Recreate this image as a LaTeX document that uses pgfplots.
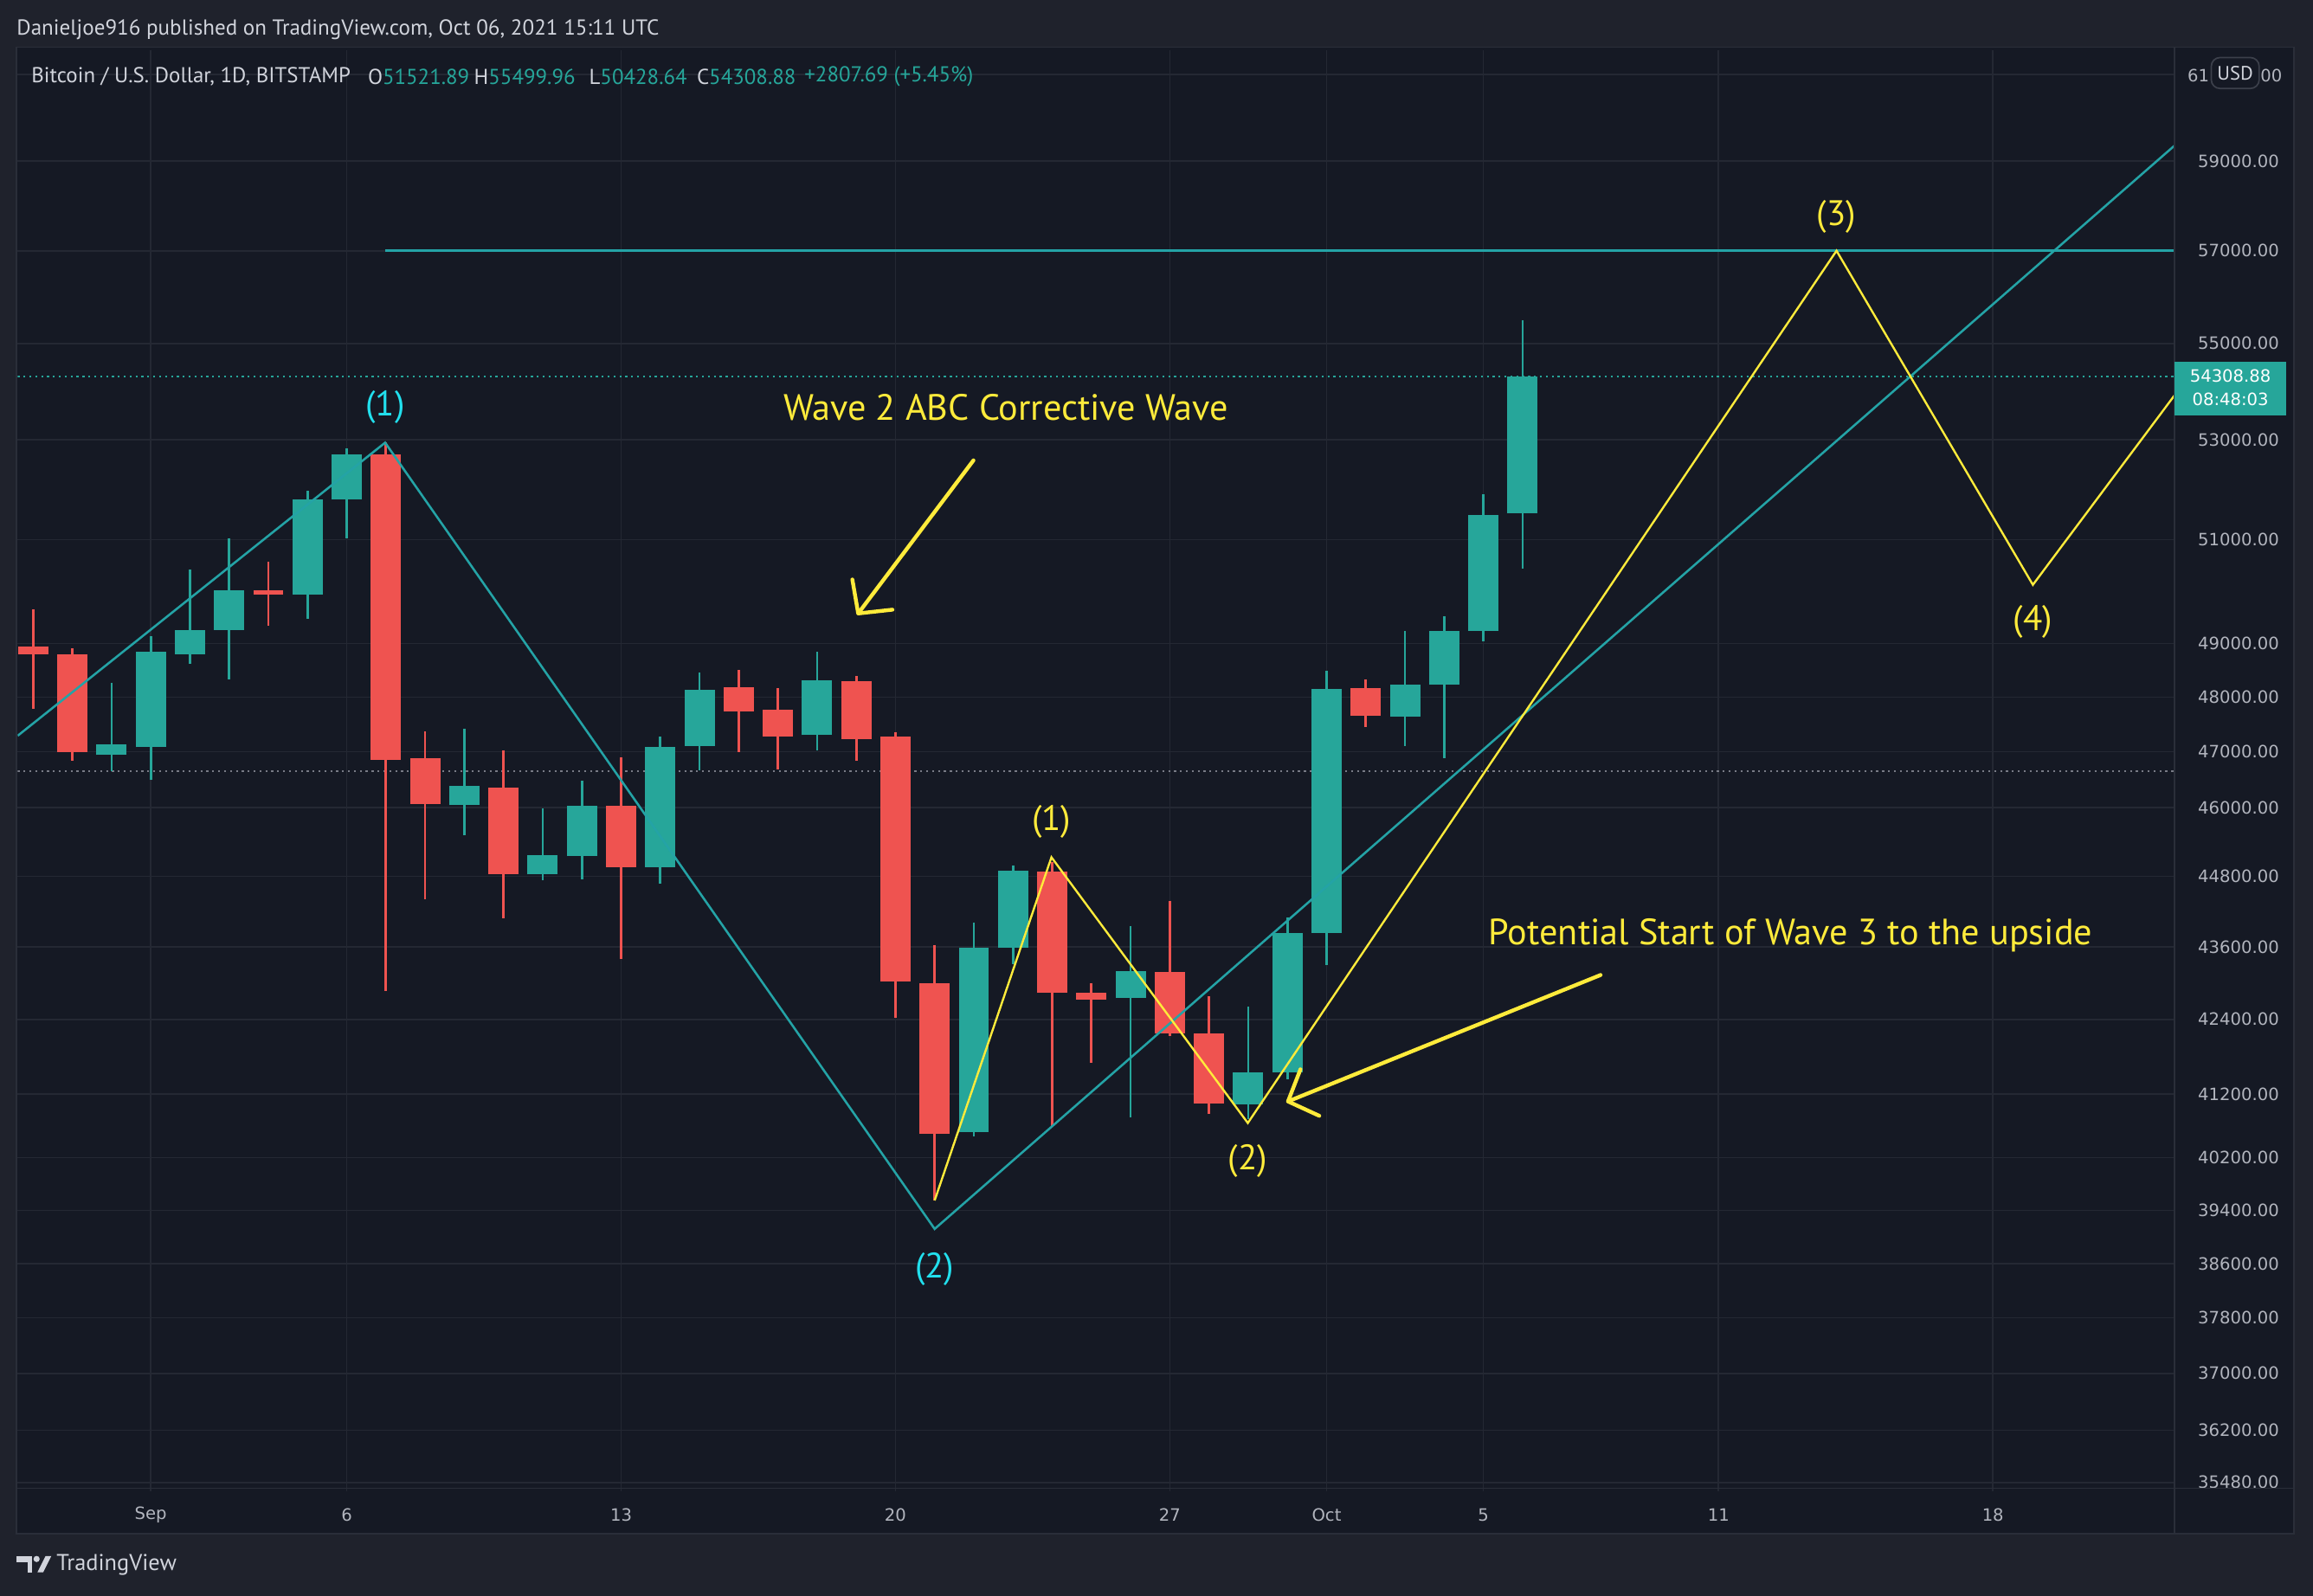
\documentclass[border=0pt]{standalone}
\usepackage{pgfplots}
\pgfplotsset{compat=1.18}
\usepackage{fontspec}
\setmainfont{PT Sans}
\newfontfamily\numfont{DejaVu Sans}
\usetikzlibrary{arrows.meta}
\definecolor{chrome}{HTML}{1F222C}
\definecolor{plotbg}{HTML}{151924}
\definecolor{gridc}{HTML}{242833}
\definecolor{framec}{HTML}{2A2E39}
\definecolor{boxc}{HTML}{3C404B}
\definecolor{upc}{HTML}{26A69A}
\definecolor{downc}{HTML}{EF5350}
\definecolor{trendc}{HTML}{24A3A6}
\definecolor{cyanc}{HTML}{22E0EE}
\definecolor{yel}{HTML}{FFEB3B}
\definecolor{txt}{HTML}{B2B5BE}
\definecolor{hdr}{HTML}{D1D4DC}
\definecolor{dotg}{HTML}{787B86}
\begin{document}
\begin{tikzpicture}
\begin{scope}[x=0.5pt,y=0.5pt]
\useasboundingbox (0,0) rectangle (1568,-1082);
\fill[chrome] (0,0) rectangle (1568,-1082);
\fill[plotbg] (11,-32) rectangle (1555,-1040);
\node[anchor=west, inner sep=0pt, text=hdr, font=\fontsize{7.35}{9}\selectfont] at (11,-20) {Danieljoe916 published on TradingView.com, Oct 06, 2021 15:11 UTC};
\end{scope}
\begin{axis}[
  at={(6pt,-505.75pt)}, anchor=south west,
  scale only axis, width=731pt, height=488.5pt,
  xmin=-2.395, xmax=52.63,
  ymode=log, ymin=35354, ymax=61568,
  axis background/.style={fill=plotbg},
  axis line style={draw=none},
  major tick length=0pt,
  grid=major, major grid style={draw=gridc, line width=0.5pt},
  xtick={1,6,13,20,27,31,35,41,48},
  xticklabels={Sep,6,13,20,27,Oct,5,11,18},
  ytick={35480,36200,37000,37800,38600,39400,40200,41200,42400,43600,44800,46000,47000,48000,49000,51000,53000,55000,57000,59000,61000},
  yticklabels={35480.00,36200.00,37000.00,37800.00,38600.00,39400.00,40200.00,41200.00,42400.00,43600.00,44800.00,46000.00,47000.00,48000.00,49000.00,51000.00,53000.00,55000.00,57000.00,59000.00,{}},
  yticklabel pos=right,
  ticklabel style={font=\numfont\fontsize{5.75}{7}\selectfont, text=txt},
  yticklabel style={anchor=west, xshift=4.5pt},
  xticklabel style={anchor=center, yshift=-8pt},
  unbounded coords=jump,
]
\addplot[dotg, line width=0.6pt, dash pattern=on 0.65pt off 1.35pt] coordinates {(-3,46650) (53,46650)};
\addplot[upc, line width=0.6pt, dash pattern=on 0.65pt off 1.35pt] coordinates {(-3,54308.88) (53,54308.88)};
\addplot[downc, line width=0.8pt] coordinates {
(-2,49650) (-2,47780) (-2,nan)
(-1,48910) (-1,46840) (-1,nan)
(4,50560) (4,49340) (4,nan)
(7,52940) (7,42870) (7,nan)
(8,47370) (8,44400) (8,nan)
(10,47030) (10,44080) (10,nan)
(13,46900) (13,43390) (13,nan)
(16,48500) (16,46990) (16,nan)
(17,48165) (17,46680) (17,nan)
(19,48390) (19,46830) (19,nan)
(20,47360) (20,42430) (20,nan)
(21,43635) (21,39560) (21,nan)
(24,45050) (24,40680) (24,nan)
(25,43000) (25,41690) (25,nan)
(27,44380) (27,42130) (27,nan)
(28,42780) (28,40880) (28,nan)
(32,48330) (32,47450)
};
\addplot[upc, line width=0.8pt] coordinates {
(0,48270) (0,46650) (0,nan)
(1,49130) (1,46490) (1,nan)
(2,50410) (2,48610) (2,nan)
(3,51030) (3,48330) (3,nan)
(5,51960) (5,49460) (5,nan)
(6,52820) (6,51030) (6,nan)
(9,47420) (9,45510) (9,nan)
(11,45990) (11,44740) (11,nan)
(12,46480) (12,44750) (12,nan)
(14,47270) (14,44680) (14,nan)
(15,48450) (15,46670) (15,nan)
(18,48840) (18,47030) (18,nan)
(22,44015) (22,40530) (22,nan)
(23,44995) (23,43310) (23,nan)
(26,43950) (26,40830) (26,nan)
(29,42610) (29,40800) (29,nan)
(30,44100) (30,41430) (30,nan)
(31,48490) (31,43300) (31,nan)
(33,49230) (33,47100) (33,nan)
(34,49520) (34,46880) (34,nan)
(35,51900) (35,49040) (35,nan)
(36,55499.96) (36,50428.64)
};
\addplot[downc, line width=10.25pt] coordinates {
(-2,48950) (-2,48790) (-2,nan)
(-1,48790) (-1,46990) (-1,nan)
(4,50010) (4,49930) (4,nan)
(7,52700) (7,46850) (7,nan)
(8,46890) (8,46070) (8,nan)
(10,46360) (10,44830) (10,nan)
(13,46030) (13,44960) (13,nan)
(16,48180) (16,47740) (16,nan)
(17,47760) (17,47280) (17,nan)
(19,48300) (19,47220) (19,nan)
(20,47270) (20,43020) (20,nan)
(21,42990) (21,40565) (21,nan)
(24,44880) (24,42840) (24,nan)
(25,42830) (25,42720) (25,nan)
(27,43180) (27,42170) (27,nan)
(28,42170) (28,41050) (28,nan)
(32,48160) (32,47660)
};
\addplot[upc, line width=10.25pt] coordinates {
(0,46940) (0,47140) (0,nan)
(1,47080) (1,48840) (1,nan)
(2,48800) (2,49260) (2,nan)
(3,49260) (3,50010) (3,nan)
(5,49930) (5,51800) (5,nan)
(6,51800) (6,52700) (6,nan)
(9,46040) (9,46380) (9,nan)
(11,44830) (11,45160) (11,nan)
(12,45150) (12,46030) (12,nan)
(14,44960) (14,47090) (14,nan)
(15,47100) (15,48130) (15,nan)
(18,47300) (18,48310) (18,nan)
(22,40600) (22,43580) (22,nan)
(23,43580) (23,44900) (23,nan)
(26,42750) (26,43200) (26,nan)
(29,41030) (29,41550) (29,nan)
(30,41550) (30,43830) (30,nan)
(31,43830) (31,48150) (31,nan)
(33,47640) (33,48230) (33,nan)
(34,48230) (34,49240) (34,nan)
(35,49240) (35,51490) (35,nan)
(36,51521.89) (36,54308.88)
};
\addplot[trendc, line width=0.75pt] coordinates {(-2.395,47290) (6.98,52940) (21,39120) (52.63,59350)};
\addplot[trendc, line width=0.75pt] coordinates {(6.98,57000) (52.63,57000)};
\addplot[yel, line width=0.7pt] coordinates {(21,39550) (23.98,45130) (28.99,40740) (44.01,57000) (49.02,50120) (52.63,53910)};
\draw[yel, line width=1.3pt, line cap=round, -{Straight Barb[length=8pt,width=17pt,line cap=round,line join=round]}] (axis cs:21.99,52580) -- (axis cs:19.02,49540);
\draw[yel, line width=1.3pt, line cap=round, -{Straight Barb[length=8pt,width=17pt,line cap=round,line join=round]}] (axis cs:37.99,43130) -- (axis cs:29.97,41070);
\node[text=cyanc, font=\fontsize{12}{14}\selectfont] at (axis cs:6.98,53666) {(1)};
\node[text=cyanc, font=\fontsize{12}{14}\selectfont] at (axis cs:21,38520) {(2)};
\node[text=yel, font=\fontsize{12}{14}\selectfont] at (axis cs:23.98,45745) {(1)};
\node[text=yel, font=\fontsize{12}{14}\selectfont] at (axis cs:28.99,40150) {(2)};
\node[text=yel, font=\fontsize{12}{14}\selectfont] at (axis cs:44.01,57745) {(3)};
\node[text=yel, font=\fontsize{12}{14}\selectfont] at (axis cs:49.02,49410) {(4)};
\node[text=yel, font=\fontsize{12.4}{15}\selectfont] at (axis cs:22.82,53666) {Wave 2 ABC Corrective Wave};
\node[text=yel, font=\fontsize{12.4}{15}\selectfont] at (axis cs:42.84,43800) {Potential Start of Wave 3 to the upside};
\end{axis}
\begin{scope}[x=0.5pt,y=0.5pt]
\begin{scope}[every node/.style={anchor=west, inner sep=0pt, font=\fontsize{7.3}{9}\selectfont}]
\node[text=hdr] at (21,-52) {Bitcoin / U.S. Dollar, 1D, BITSTAMP};
\node at (249,-52) {\textcolor{hdr}{O}\textcolor{upc}{51521.89}};
\node at (321,-52) {\textcolor{hdr}{H}\textcolor{upc}{55499.96}};
\node at (399,-52) {\textcolor{hdr}{L}\textcolor{upc}{50428.64}};
\node at (472,-52) {\textcolor{hdr}{C}\textcolor{upc}{54308.88}};
\node[text=upc] at (545,-52) {+2807.69 (+5.45\%)};
\end{scope}
\draw[framec, line width=0.5pt] (1474,-32) -- (1474,-1040);
\draw[framec, line width=0.5pt] (11,-1009) -- (1555,-1009);
\draw[framec, line width=0.5pt] (11,-32) rectangle (1555,-1040);
\node[anchor=east, inner sep=0pt, text=txt, font=\numfont\fontsize{5.75}{7}\selectfont] at (1498,-51) {61};
\node[anchor=west, inner sep=0pt, text=txt, font=\numfont\fontsize{5.75}{7}\selectfont] at (1532,-51) {00};
\filldraw[fill=plotbg, draw=boxc, line width=0.5pt, rounded corners=3pt] (1499,-39) rectangle (1531.5,-60);
\node[text=hdr, inner sep=0pt, font=\fontsize{6.6}{8}\selectfont] at (1515.2,-49.5) {USD};
\fill[upc] (1474,-245) rectangle (1550,-281.5);
\node[text=white, font=\numfont\fontsize{5.75}{7}\selectfont, inner sep=0pt] at (1512,-255) {54308.88};
\node[text=white, font=\numfont\fontsize{5.75}{7}\selectfont, inner sep=0pt] at (1512,-270.5) {08:48:03};
\fill[hdr] (11.4,-1055) rectangle (21.5,-1059);
\fill[hdr] (18.6,-1055) rectangle (21.5,-1066);
\fill[hdr] (24.8,-1057) circle (2.1);
\fill[hdr] (25.4,-1066) -- (29.3,-1066) -- (34.8,-1055) -- (30.9,-1055) -- cycle;
\node[anchor=west, inner sep=0pt, text=hdr, font=\fontsize{7.75}{9}\selectfont] at (38,-1061) {TradingView};
\end{scope}
\end{tikzpicture}
\end{document}
